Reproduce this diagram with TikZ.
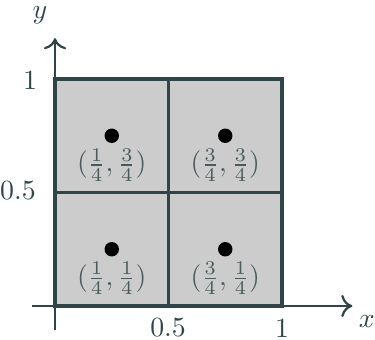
\documentclass[tikz,border=0pt]{standalone}
\usetikzlibrary{arrows.meta}
\definecolor{slate}{HTML}{2F4547}
\definecolor{lbl}{HTML}{4A5A5C}
\definecolor{cellfill}{HTML}{CCCCCC}
\begin{document}
\begin{tikzpicture}[x=81.72pt,y=81.72pt,
  axis/.style={line width=0.8pt,draw=slate,-{To[length=4pt,width=8pt]}},
  dotmark/.style={circle,fill=black,inner sep=0pt,minimum size=5.2pt},
  ptlabel/.style={text=lbl,inner sep=1pt},
  ticklabel/.style={text=slate,inner sep=0pt}]
\useasboundingbox (-0.2423,-0.1454) rectangle (1.4097,1.348);
\fill[cellfill] (0,0) rectangle (1,1);
\draw[slate,line width=0.8pt] (0.5,0) -- (0.5,1) (0,0.5) -- (1,0.5);
\draw[slate,line width=1.1pt] (0,0) rectangle (1,1);
\coordinate (xs) at (-0.1,0);
\coordinate (xe) at (1.31,0);
\coordinate (ys) at (0,-0.106);
\coordinate (ye) at (0,1.18);
\draw[axis] (xs) -- (xe);
\draw[axis] (ys) -- (ye);
\node[ticklabel] (lx) at (1.374,-0.07) {$x$};
\node[ticklabel] (ly) at (-0.066,1.282) {$y$};
\node[ticklabel] (t1) at (-0.11,0.996) {1};
\node[ticklabel] (t05) at (-0.163,0.507) {0.5};
\node[ticklabel] (x05) at (0.498,-0.097) {0.5};
\node[ticklabel] (x1) at (1.0,-0.097) {1};
\node[dotmark] (d1) at (0.25,0.75) {};
\node[dotmark] (d2) at (0.75,0.75) {};
\node[dotmark] (d3) at (0.25,0.25) {};
\node[dotmark] (d4) at (0.75,0.25) {};
\node[ptlabel] (l1) at (0.25,0.621) {$(\frac{1}{4},\frac{3}{4})$};
\node[ptlabel] (l2) at (0.75,0.621) {$(\frac{3}{4},\frac{3}{4})$};
\node[ptlabel] (l3) at (0.25,0.123) {$(\frac{1}{4},\frac{1}{4})$};
\node[ptlabel] (l4) at (0.75,0.123) {$(\frac{3}{4},\frac{1}{4})$};
\end{tikzpicture}
\end{document}
